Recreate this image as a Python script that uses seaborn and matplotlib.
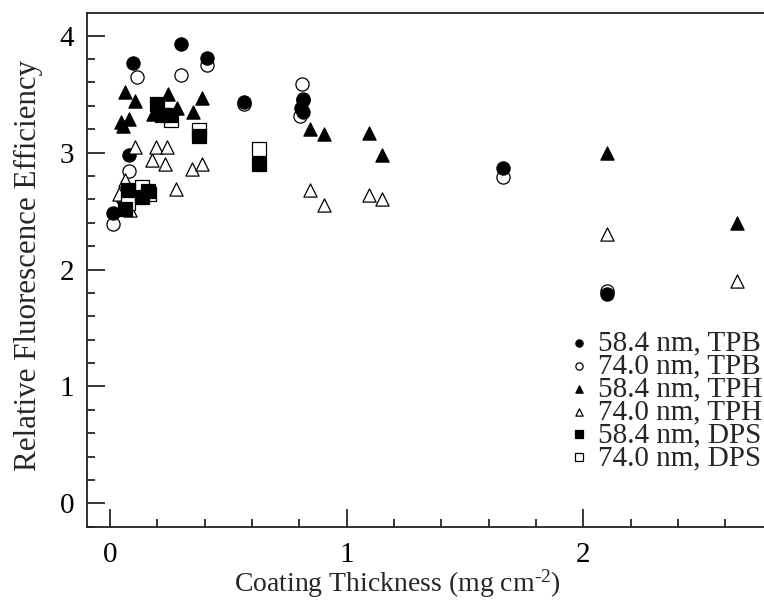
import matplotlib
matplotlib.use("Agg")
import matplotlib.pyplot as plt
import seaborn as sns
import pandas as pd
from matplotlib.ticker import MultipleLocator

# ---- data ----
tpb584_x = [0.014, 0.049, 0.082, 0.098, 0.30, 0.41, 0.567, 0.814, 0.807, 0.817, 1.659, 2.098]
tpb584_y = [2.48, 2.61, 2.98, 3.77, 3.93, 3.81, 3.43, 3.45, 3.38, 3.35, 2.87, 1.79]

tpb740_x = [0.014, 0.082, 0.113, 0.30, 0.41, 0.567, 0.812, 0.814, 0.803, 1.659, 2.098]
tpb740_y = [2.39, 2.84, 3.65, 3.66, 3.75, 3.42, 3.59, 3.46, 3.31, 2.79, 1.82]

tph584_x = [0.045, 0.054, 0.063, 0.082, 0.106, 0.183, 0.246, 0.282, 0.349, 0.39,
            0.845, 0.904, 1.094, 1.15, 2.098, 2.65]
tph584_y = [3.26, 3.23, 3.52, 3.29, 3.44, 3.33, 3.50, 3.38, 3.35, 3.47,
            3.20, 3.16, 3.17, 2.98, 3.00, 2.40]

tph740_x = [0.04, 0.063, 0.084, 0.106, 0.179, 0.194, 0.232, 0.242, 0.279, 0.348, 0.39,
            0.845, 0.904, 1.094, 1.15, 2.098, 2.65]
tph740_y = [2.65, 2.77, 2.51, 3.05, 2.94, 3.05, 2.90, 3.05, 2.69, 2.86, 2.90,
            2.68, 2.55, 2.64, 2.60, 2.30, 1.90]

dps584_x = [0.063, 0.077, 0.134, 0.162, 0.197, 0.218, 0.253, 0.377, 0.63]
dps584_y = [2.52, 2.68, 2.62, 2.67, 3.42, 3.32, 3.32, 3.14, 2.90]

dps740_x = [0.077, 0.137, 0.165, 0.256, 0.377, 0.63]
dps740_y = [2.57, 2.71, 2.65, 3.28, 3.19, 3.03]

labels = ["58.4 nm, TPB", "74.0 nm, TPB", "58.4 nm, TPH",
          "74.0 nm, TPH", "58.4 nm, DPS", "74.0 nm, DPS"]

series = [
    (tpb740_x, tpb740_y, labels[1], "o", False),
    (tpb584_x, tpb584_y, labels[0], "o", True),
    (tph740_x, tph740_y, labels[3], "^", False),
    (tph584_x, tph584_y, labels[2], "^", True),
    (dps740_x, dps740_y, labels[5], "s", False),
    (dps584_x, dps584_y, labels[4], "s", True),
]

sns.set_theme(style="ticks")
plt.rcParams["font.family"] = ["Liberation Serif", "DejaVu Serif"]
plt.rcParams["mathtext.fontset"] = "custom"
plt.rcParams["mathtext.rm"] = "Liberation Serif"
plt.rcParams["mathtext.it"] = "Liberation Serif:italic"

W, H = 764, 601
fig = plt.figure(figsize=(W / 100, H / 100), dpi=100)
left, right, top, bottom = 86.7, 770.0, 12.7, 526.7
ax = fig.add_axes([left / W, 1 - bottom / H, (right - left) / W, (bottom - top) / H])

for xs, ys, lab, m, filled in series:
    df = pd.DataFrame({"x": xs, "y": ys})
    sns.scatterplot(data=df, x="x", y="y", ax=ax, marker=m, s=90,
                    color="black" if filled else "white",
                    edgecolor="black", linewidth=0.9, label=lab, zorder=3)

ax.set_xlim(-0.0984, (right - 110) / 236.7)
ax.set_ylim(-0.200, 4.197)

ax.xaxis.set_major_locator(MultipleLocator(1))
ax.xaxis.set_minor_locator(MultipleLocator(0.2))
ax.yaxis.set_major_locator(MultipleLocator(1))
ax.yaxis.set_minor_locator(MultipleLocator(0.2))
ax.tick_params(which="both", direction="in", top=False, right=False,
               colors="black", width=1.1, labelsize=21)
ax.tick_params(which="major", length=13)
ax.tick_params(which="minor", length=6)
ax.tick_params(axis="y", pad=9)
ax.tick_params(axis="x", pad=11)
for sp in ax.spines.values():
    sp.set_color("#222222")
    sp.set_linewidth(1.3)
    sp.set_visible(True)

ax.set_xlabel("Coating Thickness (mg cm$^{\\text{-}2}$)", fontsize=20, labelpad=1)
ax.xaxis.set_label_coords((397 - left) / (right - left), -0.079)
ax.set_ylabel("Relative Fluorescence Efficiency", fontsize=22.3, labelpad=10)
ax.yaxis.set_label_coords(-0.064, (bottom - 265) / (bottom - top))

handles, labs = ax.get_legend_handles_labels()
hmap = dict(zip(labs, handles))
leg = ax.legend([hmap[l] for l in labels], labels, loc="upper left",
                bbox_to_anchor=(570 / W, 1 - 330 / H), bbox_transform=fig.transFigure,
                frameon=False, fontsize=21, markerscale=0.55, handlelength=0.6,
                handletextpad=0.35, labelspacing=-0.12, borderpad=0, borderaxespad=0)

fig.savefig("out.png", dpi=100)
